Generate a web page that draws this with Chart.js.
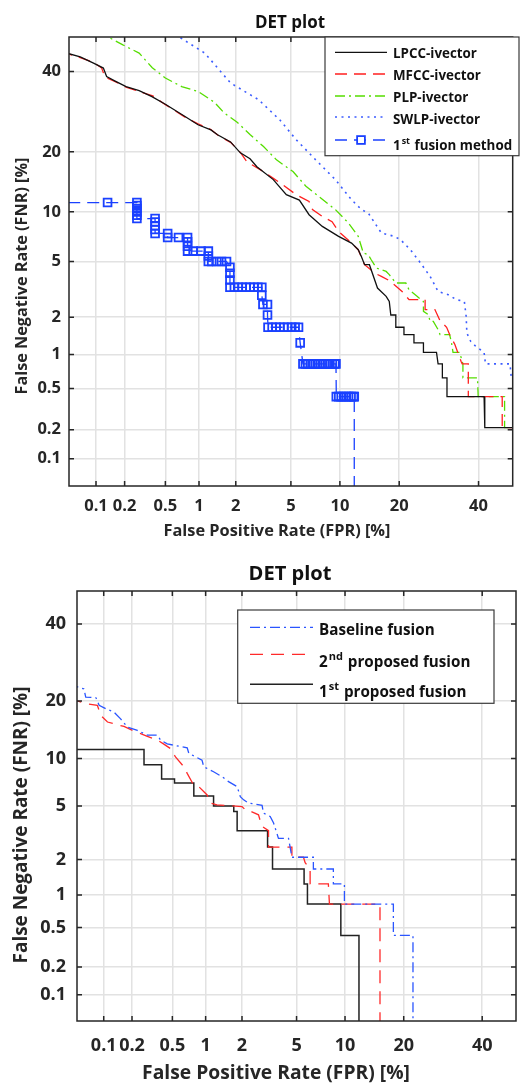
<!DOCTYPE html>
<html lang="en">
<head>
<meta charset="UTF-8">
<title>DET plots</title>
<script src="https://cdn.jsdelivr.net/npm/chart.js@4.4.1/dist/chart.umd.min.js"></script>
<style>
body { margin: 0; background: #fff; }
.box { position: absolute; left: 0; width: 520px; }
</style>
</head>
<body>
<div class="box" style="top:0;height:540px"><canvas id="detTop" width="520" height="540"></canvas></div>
<div class="box" style="top:540px;height:543px"><canvas id="detBottom" width="520" height="543"></canvas></div>
<script>
// tick values (both axes, both plots), in %
const TICKS = [0.1, 0.2, 0.5, 1, 2, 5, 10, 20, 40];

// ---- top plot: FPR / FNR in % ----
const lpccFpr = [0.04, 0.067, 0.094, 0.12, 0.13, 0.158, 0.207, 0.28, 0.373, 0.50, 0.755, 0.98, 1.26, 1.43, 1.82, 2.17, 2.57, 2.89, 3.79, 4.66, 5.68, 6.55, 7.9, 9.83, 11.6, 12.6, 13.1, 13.6, 14.4, 15.8, 17.4, 18.0, 18.3, 19.3, 19.3, 21.0, 21.0, 23.2, 23.2, 25.4, 25.4, 28.6, 29.0, 30.1, 30.1, 31.3, 31.3, 41.6, 41.8, 55];
const lpccFnr = [45.8, 44.2, 42.4, 41.0, 38.6, 37.4, 35.8, 34.7, 33.1, 31.1, 28.0, 26.0, 24.8, 23.7, 22.1, 19.8, 18.6, 17.1, 14.8, 12.4, 11.6, 9.64, 8.26, 7.2, 6.55, 5.95, 5.37, 4.76, 4.76, 3.29, 2.87, 2.63, 2.08, 2.08, 1.67, 1.67, 1.46, 1.46, 1.25, 1.25, 1.04, 1.04, 0.83, 0.83, 0.625, 0.625, 0.42, 0.42, 0.21, 0.21];

const mfccFpr = [0.04, 0.067, 0.094, 0.115, 0.125, 0.16, 0.21, 0.28, 0.38, 0.50, 0.76, 0.98, 1.26, 1.45, 1.82, 2.17, 2.44, 3.23, 3.75, 4.43, 5.41, 6.55, 6.88, 7.9, 9.02, 9.83, 11.6, 12.6, 13.6, 15.3, 16.5, 17.7, 19.0, 20.6, 22.1, 25.8, 25.8, 28.2, 29.5, 31.2, 32.0, 33.4, 35.1, 35.4, 37.1, 37.1, 46.9, 46.9, 55];
const mfccFnr = [45.8, 44.0, 42.6, 41.0, 38.4, 37.2, 35.6, 34.5, 33.3, 31.0, 27.8, 26.2, 24.9, 23.5, 22.0, 19.9, 18.0, 16.2, 15.1, 13.9, 12.4, 11.4, 10.3, 9.43, 8.8, 7.7, 6.55, 5.95, 4.76, 4.18, 3.97, 3.76, 3.47, 3.11, 2.71, 2.71, 2.29, 2.29, 1.88, 1.67, 1.46, 1.21, 0.87, 0.83, 0.83, 0.42, 0.42, 0.21, 0.21];

const plpFpr = [0.12, 0.135, 0.192, 0.28, 0.376, 0.50, 0.705, 0.98, 1.35, 1.62, 2.05, 2.58, 3.23, 3.99, 5.16, 6.26, 7.55, 9.42, 11.15, 12.6, 13.4, 14.2, 14.7, 15.6, 17.4, 18.0, 19.3, 21.4, 22.1, 23.9, 25.4, 25.4, 26.6, 27.0, 27.8, 29.0, 29.5, 32.0, 32.5, 32.9, 34.7, 35.6, 35.6, 39.7, 39.9, 44.9, 47.6, 47.6, 55];
const plpFnr = [53, 50, 47.7, 45.3, 41.1, 38.2, 35.8, 34.5, 31.6, 28.9, 26.6, 23.7, 21.1, 18.4, 16.2, 13.7, 12.1, 10.3, 8.65, 7.2, 5.67, 5.53, 5.13, 4.52, 4.29, 4.08, 3.57, 3.57, 3.2, 2.87, 2.63, 2.22, 2.09, 1.86, 1.86, 1.6, 1.46, 1.46, 1.25, 1.04, 1.04, 0.83, 0.625, 0.625, 0.42, 0.42, 0.42, 0.21, 0.21];

const swlpFpr = [0.6, 0.67, 1.12, 1.82, 2.97, 4.2, 5.41, 7.2, 9.42, 11.6, 13.1, 14.2, 16.5, 19.0, 20.3, 22.4, 24.7, 27.0, 29.0, 31.6, 33.8, 36.0, 36.5, 36.7, 37.8, 39.2, 41.6, 42.0, 49.2, 49.6, 55];
const swlpFnr = [53, 50, 45.3, 36.8, 32.3, 27.2, 22.6, 18.4, 14.8, 11.65, 10.3, 9.85, 7.55, 7.2, 6.86, 5.95, 4.89, 3.97, 3.11, 2.95, 2.71, 2.63, 2.03, 1.5, 1.28, 1.17, 1.04, 0.83, 0.83, 0.62, 0.62];

const fusionFpr = [0.01, 0.133, 0.266, 0.266, 0.266, 0.266, 0.266, 0.266, 0.40, 0.40, 0.40, 0.40, 0.40, 0.525, 0.525, 0.66, 0.795, 0.795, 0.795, 0.795, 0.89, 1.04, 1.2, 1.2, 1.2, 1.28, 1.41, 1.54, 1.69, 1.8, 1.8, 1.8, 1.8, 1.95, 2.09, 2.24, 2.40, 2.57, 2.75, 2.94, 3.14, 3.14, 3.2, 3.45, 3.45, 3.48, 3.72, 3.96, 4.21, 4.48, 4.76, 5.06, 5.33, 5.61, 5.75,
  5.99, 6.21, 6.43, 6.67, 6.91, 7.15, 7.41, 7.66, 7.93, 8.2, 8.48, 8.76, 9.05, 9.36, 9.5,
  9.54, 9.85, 10.17, 10.5, 10.83, 11.18, 11.53, 11.89, 12.0, 12.0];
const fusionFnr = [11.25, 11.25, 11.25, 10.83, 10.42, 10.0, 9.58, 9.17, 9.17, 8.75, 8.33, 7.92, 7.5, 7.5, 7.08, 7.08, 7.08, 6.67, 6.25, 5.83, 5.83, 5.83, 5.83, 5.42, 5.0, 5.0, 5.0, 5.0, 5.0, 4.58, 4.17, 3.75, 3.33, 3.33, 3.33, 3.33, 3.33, 3.33, 3.33, 3.33, 3.33, 2.92, 2.5, 2.5, 2.08, 1.67, 1.67, 1.67, 1.67, 1.67, 1.67, 1.67, 1.67, 1.67, 1.25,
  0.83, 0.83, 0.83, 0.83, 0.83, 0.83, 0.83, 0.83, 0.83, 0.83, 0.83, 0.83, 0.83, 0.83, 0.83,
  0.42, 0.42, 0.42, 0.42, 0.42, 0.42, 0.42, 0.42, 0.42, 0.001];

// ---- bottom plot ----
const baseFpr = [0.04, 0.060, 0.063, 0.082, 0.089, 0.105, 0.129, 0.152, 0.179, 0.227, 0.286, 0.36, 0.386, 0.447, 0.686, 0.71, 0.93, 0.963, 1.17, 1.38, 1.56, 1.83, 1.94, 2.06, 2.25, 2.85, 2.92, 3.27, 3.46, 3.75, 4.41, 4.65, 6.44, 6.44, 8.55, 8.55, 9.92, 9.92, 17.9, 17.9, 22.0, 22.0];
const baseFnr = [23.8, 22.7, 20.85, 20.7, 19.1, 18.4, 17.7, 16.4, 14.9, 14.3, 13.5, 13.5, 12.7, 12.1, 11.5, 10.7, 9.78, 8.93, 8.33, 7.76, 7.23, 6.72, 5.78, 5.5, 5.23, 5.05, 4.46, 4.22, 3.79, 2.92, 2.92, 2.08, 2.08, 1.67, 1.67, 1.25, 1.25, 0.83, 0.83, 0.42, 0.42, 0.001];

const prop2Fpr = [0.04, 0.066, 0.085, 0.093, 0.11, 0.141, 0.165, 0.202, 0.245, 0.286, 0.36, 0.415, 0.48, 0.535, 0.64, 0.686, 0.787, 0.87, 1.03, 1.1, 1.25, 2.0, 2.19, 2.39, 2.68, 2.77, 2.86, 3.18, 3.18, 3.76, 4.65, 4.65, 5.56, 5.7, 6.14, 6.14, 7.1, 7.98, 8.1, 15.4, 15.4, 15.4];
const prop2Fnr = [20.5, 19.4, 19.1, 17.05, 15.8, 15.3, 15.0, 14.3, 13.77, 13.3, 12.7, 12.07, 11.4, 10.2, 8.93, 8.14, 6.84, 6.72, 5.93, 5.23, 5.09, 4.95, 4.58, 4.55, 4.34, 3.89, 3.58, 3.33, 2.5, 2.5, 2.5, 2.08, 2.08, 1.88, 1.67, 1.25, 1.25, 1.25, 0.83, 0.83, 0.42, 0.001];

const prop1Fpr = [0.01, 0.265, 0.265, 0.395, 0.395, 0.524, 0.524, 0.787, 0.787, 1.17, 1.17, 1.72, 1.72, 1.83, 1.83, 3.13, 3.13, 3.4, 3.4, 5.61, 5.61, 5.9, 5.9, 9.46, 9.46, 11.96, 11.96];
const prop1Fnr = [11.25, 11.25, 9.17, 9.17, 7.5, 7.5, 7.08, 7.08, 5.83, 5.83, 5.0, 5.0, 4.58, 4.58, 3.33, 3.33, 2.5, 2.5, 1.67, 1.67, 1.25, 1.25, 0.83, 0.83, 0.42, 0.42, 0.001];

const FONT = '"Open Sans", "Noto Sans", sans-serif';
const INK = '#262626';

function pairs(xs, ys) { return xs.map((x, i) => ({ x: x, y: ys[i] })); }

// inverse normal CDF (Acklam)
function probit(p) {
  const a = [-39.69683028665376, 220.9460984245205, -275.9285104469687, 138.3577518672690, -30.66479806614716, 2.506628277459239];
  const b = [-54.47609879822406, 161.5858368580409, -155.6989798598866, 66.80131188771972, -13.28068155288572];
  const c = [-0.007784894002430293, -0.3223964580411365, -2.400758277161838, -2.549732539343734, 4.374664141464968, 2.938163982698783];
  const d = [0.007784695709041462, 0.3224671290700398, 2.445134137142996, 3.754408661907416];
  if (p <= 0) return -8;
  if (p >= 1) return 8;
  let q, r;
  if (p < 0.02425) {
    q = Math.sqrt(-2 * Math.log(p));
    return (((((c[0]*q+c[1])*q+c[2])*q+c[3])*q+c[4])*q+c[5]) / ((((d[0]*q+d[1])*q+d[2])*q+d[3])*q+1);
  }
  if (p <= 1 - 0.02425) {
    q = p - 0.5; r = q * q;
    return (((((a[0]*r+a[1])*r+a[2])*r+a[3])*r+a[4])*r+a[5])*q / (((((b[0]*r+b[1])*r+b[2])*r+b[3])*r+b[4])*r+1);
  }
  q = Math.sqrt(-2 * Math.log(1 - p));
  return -(((((c[0]*q+c[1])*q+c[2])*q+c[3])*q+c[4])*q+c[5]) / ((((d[0]*q+d[1])*q+d[2])*q+d[3])*q+1);
}
function normcdf(z) {
  const t = 1 / (1 + 0.3275911 * Math.abs(z) / Math.SQRT2);
  const e = 1 - (((((1.061405429*t - 1.453152027)*t) + 1.421413741)*t - 0.284496736)*t + 0.254829592)*t * Math.exp(-z*z/2);
  return z >= 0 ? (1 + e) / 2 : (1 - e) / 2;
}

// normal deviate (probit) axis, values in %
class ProbitScale extends Chart.Scale {
  static id = 'probit';
  static defaults = {};
  determineDataLimits() { this.min = this.options.min; this.max = this.options.max; }
  buildTicks() { return TICKS.map(v => ({ value: v })); }
  getLabelForValue(v) { return String(v); }
  configure() {
    super.configure();
    this._z0 = probit(this.min / 100);
    this._z1 = probit(this.max / 100);
  }
  getPixelForValue(v) {
    return this.getPixelForDecimal((probit(v / 100) - this._z0) / (this._z1 - this._z0));
  }
  getValueForPixel(px) {
    return normcdf(this._z0 + this.getDecimalForPixel(px) * (this._z1 - this._z0)) * 100;
  }
}
Chart.register(ProbitScale);

// font size that makes text about `width` px wide
function fitSize(ctx, text, width) {
  ctx.font = 'bold 20px ' + FONT;
  return 20 * width / ctx.measureText(text).width;
}

function drawLabel(ctx, text, x, y, size) {
  const m = /^(\d+)(st|nd|rd|th)(.*)$/.exec(text);
  ctx.font = 'bold ' + size + 'px ' + FONT;
  if (!m) { ctx.fillText(text, x, y); return; }
  ctx.fillText(m[1], x, y);
  let w = ctx.measureText(m[1]).width + 1;
  ctx.font = 'bold ' + Math.round(size * 0.7) + 'px ' + FONT;
  ctx.fillText(m[2], x + w, y - size * 0.45);
  w += ctx.measureText(m[2]).width + 1;
  ctx.font = 'bold ' + size + 'px ' + FONT;
  ctx.fillText(m[3], x + w, y);
}

function drawTitle(ctx, t, rotate) {
  const size = fitSize(ctx, t.text, t.w);
  ctx.save();
  ctx.translate(t.x, t.y);
  if (rotate) ctx.rotate(-Math.PI / 2);
  ctx.font = 'bold ' + size + 'px ' + FONT;
  ctx.fillText(t.text, 0, 0);
  ctx.restore();
}

// box, inward ticks, titles and legend in MATLAB style
const detDecor = {
  id: 'detDecor',
  afterDraw(chart, args, o) {
    const ctx = chart.ctx, a = chart.chartArea;
    const xs = chart.scales.x, ys = chart.scales.y;
    ctx.save();
    ctx.strokeStyle = INK;
    ctx.lineWidth = 1.5;
    ctx.setLineDash([]);
    ctx.strokeRect(a.left, a.top, a.right - a.left, a.bottom - a.top);
    ctx.beginPath();
    TICKS.forEach(v => {
      const px = xs.getPixelForValue(v), py = ys.getPixelForValue(v);
      ctx.moveTo(px, a.bottom); ctx.lineTo(px, a.bottom - 5);
      ctx.moveTo(px, a.top); ctx.lineTo(px, a.top + 5);
      ctx.moveTo(a.left, py); ctx.lineTo(a.left + 5, py);
      ctx.moveTo(a.right, py); ctx.lineTo(a.right - 5, py);
    });
    ctx.stroke();

    ctx.textAlign = 'center';
    ctx.textBaseline = 'alphabetic';
    ctx.fillStyle = '#111';
    drawTitle(ctx, o.title, false);
    ctx.fillStyle = INK;
    drawTitle(ctx, o.xTitle, false);
    drawTitle(ctx, o.yTitle, true);

    const L = o.legend;
    const size = fitSize(ctx, chart.data.datasets[0].label, L.firstWidth);
    ctx.fillStyle = '#fff';
    ctx.fillRect(L.left, L.top, L.right - L.left, L.bottom - L.top);
    ctx.strokeStyle = '#3a3a3a';
    ctx.lineWidth = 1.2;
    ctx.strokeRect(L.left, L.top, L.right - L.left, L.bottom - L.top);
    chart.data.datasets.forEach((ds, i) => {
      const r = L.rows[i];
      ctx.strokeStyle = ds.borderColor;
      ctx.lineWidth = ds.borderWidth;
      ctx.setLineDash(ds.borderDash || []);
      ctx.beginPath();
      ctx.moveTo(L.lineX1, r.lineY); ctx.lineTo(L.lineX2, r.lineY);
      ctx.stroke();
      ctx.setLineDash([]);
      if (ds.pointRadius > 0) {
        const s = ds.pointRadius * Math.SQRT1_2;
        const mx = (L.lineX1 + L.lineX2) / 2;
        ctx.fillStyle = '#fff';
        ctx.fillRect(mx - s, r.lineY - s, 2 * s, 2 * s);
        ctx.lineWidth = ds.pointBorderWidth;
        ctx.strokeRect(mx - s, r.lineY - s, 2 * s, 2 * s);
      }
      ctx.fillStyle = '#111';
      ctx.textAlign = 'left';
      drawLabel(ctx, ds.label, L.textX, r.textY, size);
    });
    ctx.restore();
  }
};

function axis(pos, size, pad, fit) {
  return {
    type: 'probit', position: pos, min: 0.05, max: 50,
    grid: { color: '#e2e2e2', lineWidth: 1.5, drawTicks: false },
    border: { display: false },
    ticks: { autoSkip: false, maxRotation: 0, padding: pad, color: INK, font: { family: FONT, size: size, weight: 'bold' } },
    afterFit: fit
  };
}

function makeChart(id, datasets, pad, sizes, decor) {
  return new Chart(document.getElementById(id), {
    type: 'line',
    data: { datasets: datasets },
    options: {
      responsive: false,
      animation: false,
      layout: { padding: pad.layout },
      elements: { point: { radius: 0 }, line: { tension: 0 } },
      scales: {
        x: axis('bottom', sizes.tick, pad.xTick, s => { s.height = pad.xHeight; }),
        y: axis('left', sizes.tick, pad.yTick, s => { s.width = pad.yWidth; })
      },
      plugins: { legend: { display: false }, tooltip: { enabled: false }, detDecor: decor }
    },
    plugins: [detDecor]
  });
}

makeChart('detTop', [
  { label: 'LPCC-ivector', data: pairs(lpccFpr, lpccFnr), borderColor: '#111111', borderWidth: 1.3, borderDash: [], pointRadius: 0 },
  { label: 'MFCC-ivector', data: pairs(mfccFpr, mfccFnr), borderColor: '#ff1f1f', borderWidth: 1.3, borderDash: [12, 7], pointRadius: 0 },
  { label: 'PLP-ivector', data: pairs(plpFpr, plpFnr), borderColor: '#55dd00', borderWidth: 1.3, borderDash: [10, 4, 2, 4], pointRadius: 0 },
  { label: 'SWLP-ivector', data: pairs(swlpFpr, swlpFnr), borderColor: '#3b5cff', borderWidth: 1.6, borderDash: [2, 4.5], pointRadius: 0 },
  { label: '1st fusion method', data: pairs(fusionFpr, fusionFnr), borderColor: '#1a40ff', borderWidth: 1.3, borderDash: [12, 7],
    pointStyle: 'rect', pointRadius: 5.5, pointBorderWidth: 1.8, pointBorderColor: '#1a40ff', pointBackgroundColor: 'rgba(255,255,255,0)' }
], { layout: { left: 0, top: 37, right: 1, bottom: 0 }, xHeight: 54, yWidth: 69, xTick: 10, yTick: 8 }, { tick: 16.5 }, {
  title: { text: 'DET plot', x: 290, y: 28, w: 70 },
  xTitle: { text: 'False Positive Rate (FPR) [%]', x: 277, y: 536, w: 227 },
  yTitle: { text: 'False Negative Rate (FNR) [%]', x: 27, y: 276, w: 237 },
  legend: { left: 325, top: 37, right: 519, bottom: 155.7, lineX1: 335, lineX2: 387, textX: 393, firstWidth: 84,
    rows: [{ lineY: 52.3, textY: 58.3 }, { lineY: 74, textY: 80 }, { lineY: 96, textY: 102.3 }, { lineY: 117, textY: 124.3 }, { lineY: 140, textY: 150 }] }
});

makeChart('detBottom', [
  { label: 'Baseline fusion', data: pairs(baseFpr, baseFnr), borderColor: '#2a55ff', borderWidth: 1.3, borderDash: [10, 4, 2, 4], pointRadius: 0 },
  { label: '2nd proposed fusion', data: pairs(prop2Fpr, prop2Fnr), borderColor: '#ff2a2a', borderWidth: 1.3, borderDash: [13, 8], pointRadius: 0 },
  { label: '1st proposed fusion', data: pairs(prop1Fpr, prop1Fnr), borderColor: '#222222', borderWidth: 1.5, borderDash: [], pointRadius: 0 }
], { layout: { left: 0, top: 51, right: 4, bottom: 0 }, xHeight: 62, yWidth: 77, xTick: 14, yTick: 11 }, { tick: 18 }, {
  title: { text: 'DET plot', x: 290, y: 40, w: 83 },
  xTitle: { text: 'False Positive Rate (FPR) [%]', x: 276, y: 539, w: 268 },
  yTitle: { text: 'False Negative Rate (FNR) [%]', x: 27, y: 285, w: 277 },
  legend: { left: 237.7, top: 70, right: 494, bottom: 163.3, lineX1: 250, lineX2: 313, textX: 319, firstWidth: 115.7,
    rows: [{ lineY: 87.3, textY: 95 }, { lineY: 114.3, textY: 126.7 }, { lineY: 144.3, textY: 156.7 }] }
});
</script>
</body>
</html>
